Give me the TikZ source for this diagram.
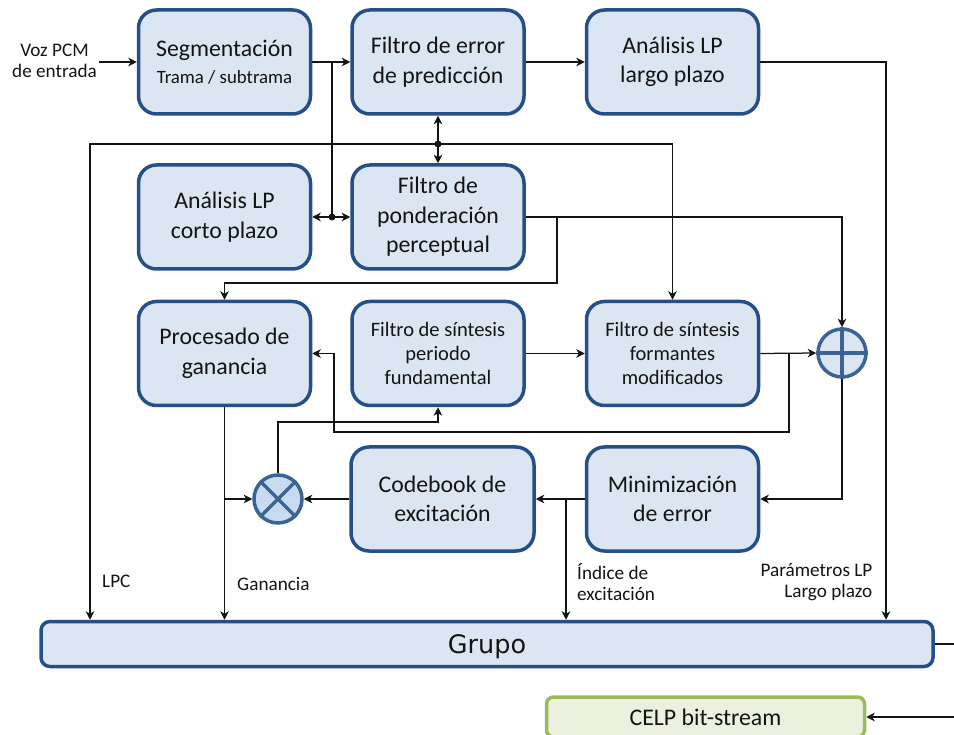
\documentclass[tikz,border=0pt]{standalone}
\usepackage{fontspec}
\setmainfont{Carlito}
\newfontfamily\grupofont{DejaVu Sans}
\usetikzlibrary{arrows.meta}

\definecolor{blkfill}{HTML}{DCE6F2}
\definecolor{blkline}{HTML}{244F87}
\definecolor{opline}{HTML}{3B6494}
\definecolor{mulfill}{HTML}{C8DAF0}
\definecolor{grnfill}{HTML}{EBF1DE}
\definecolor{grnline}{HTML}{9BBB59}
\definecolor{ink}{HTML}{141414}

\tikzset{
  block/.style={draw=blkline, fill=blkfill, line width=3.5pt, rounded corners=18pt,
    minimum width=172pt, minimum height=104pt, align=center, inner sep=0pt,
    text=ink, font=\fontsize{23.8}{29.5}\selectfont},
  smallblock/.style={block, font=\fontsize{20.5}{24}\selectfont},
  opnode/.style={circle, draw=opline, fill=blkfill, line width=3.5pt,
    minimum size=48pt, inner sep=0pt},
  opcross/.style={draw=opline, line width=3.5pt},
  conn/.style={draw=ink, line width=1.25pt},
  arr/.style={conn, -{Stealth[length=8.5pt,width=8.5pt,inset=2.5pt]}},
  junct/.style={fill=ink},
  lbl/.style={inner sep=0pt, text=ink, font=\fontsize{19.2}{21.5}\selectfont},
}

\begin{document}
\begin{tikzpicture}[x=1pt,y=-1pt]
\useasboundingbox (0,0) rectangle (954,735);
\clip (0,0) rectangle (954,735);

% processing blocks
\node[block] (seg) at (224.5,62) {Segmentación\\[-3pt]{\fontsize{18.8}{22}\selectfont Trama / subtrama}};
\node[block] (err) at (438,62) {Filtro de error\\de predicción};
\node[block] (lplargo) at (672.5,62) {Análisis LP\\largo plazo};
\node[block] (lpcorto) at (224.5,217) {Análisis LP\\corto plazo};
\node[block] (pond) at (438,217) {Filtro de\\ponderación\\perceptual};
\node[block] (gan) at (224.5,353.5) {Procesado de\\ganancia};
\node[smallblock] (per) at (438,353.5) {Filtro de síntesis\\periodo\\fundamental};
\node[smallblock] (form) at (672.5,353.5) {Filtro de síntesis\\formantes\\modificados};
\node[block, minimum width=183pt] (code) at (442.5,499) {Codebook de\\excitación};
\node[block] (mini) at (672.5,499) {Minimización\\de error};

% adder and multiplier
\node[opnode] (sum) at (842,353) {};
\draw[opcross] (sum.north) -- (sum.south) (sum.west) -- (sum.east);
\node[opnode, fill=mulfill] (mul) at (278,499) {};
\draw[opcross] (mul.north west) -- (mul.south east) (mul.north east) -- (mul.south west);

% multiplexer and output
\node[draw=blkline, fill=blkfill, line width=3.5pt, rounded corners=9pt,
  minimum width=892pt, minimum height=45pt, inner sep=0pt, text=ink, text depth=0pt,
  font=\grupofont\fontsize{25.5}{30}\selectfont] (grupo) at (487,644) {Grupo};
\node[draw=grnline, fill=grnfill, line width=3.5pt, rounded corners=7pt,
  minimum width=318pt, minimum height=40pt, inner sep=0pt, text=ink,
  font=\fontsize{23.8}{28}\selectfont] (celp) at (705.5,717) {CELP bit-stream};

% junction points and bends
\coordinate (vin) at (99,62);
\coordinate (j1) at (332,217);
\coordinate (j2) at (438,144);
\coordinate (cL) at (90,144);
\coordinate (cPar) at (886,62);
\coordinate (j3) at (557,217);
\coordinate (k1) at (557,283);
\coordinate (j4) at (789,353.5);
\coordinate (k3) at (334,432);
\coordinate (k4) at (278,422);
\coordinate (j5) at (566,499);
\coordinate (eOut) at (960,644);
\coordinate (eIn) at (960,717);

% input
\node[lbl, align=center] (voz) at (54.5,61) {Voz PCM\\de entrada};
\draw[arr] (vin) -- (seg.west);

% top row
\draw[arr] (seg.east) -- (err.west);
\draw[conn] (seg.east -| j1) -- (j1);
\draw[arr] (j1) -- (lpcorto.east);
\draw[arr] (j1) -- (pond.west);
\fill[junct] (j1) circle (3.5pt);
\draw[arr] (err.east) -- (lplargo.west);
\draw[arr] (lplargo.east) -- (cPar) -- (cPar |- grupo.north);

% LPC bus
\draw[arr] (j2) -- (err.south);
\draw[arr] (j2) -- (pond.north);
\draw[arr] (j2) -| (form.north);
\draw[arr] (j2) -- (cL) -- (cL |- grupo.north);
\fill[junct] (j2) circle (3.5pt);

% perceptual weighting output
\draw[arr] (pond.east) -| (sum.north);
\draw[arr] (j3) -- (k1) -| (gan.north);

% synthesis chain
\draw[arr] (per.east) -- (form.west);
\draw[arr] (form.east) -- (sum.west);
\draw[arr] (j4) |- (k3) |- (gan.east);
\draw[arr] (mul.north) -- (k4) -| (per.south);

% gain and excitation
\draw[arr] (gan.south) -- (gan.south |- grupo.north);
\draw[arr] (gan.south |- mul.west) -- (mul.west);
\draw[arr] (code.west) -- (mul.east);
\draw[arr] (mini.west) -- (code.east);
\draw[arr] (j5) -- (j5 |- grupo.north);
\draw[arr] (sum.south) |- (mini.east);

% bit-stream
\draw[conn] (grupo.east) -- (eOut);
\draw[arr] (eIn) -- (celp.east);

% signal labels
\node[lbl, anchor=base west] (lLPC) at (102,587) {LPC};
\node[lbl, anchor=base west] (lGan) at (237,590) {Ganancia};
\node[lbl, anchor=west, align=left] (lIdx) at (577,582) {Índice de\\excitación};
\node[lbl, anchor=east, align=right] (lPar) at (872.5,582) {Parámetros LP\\Largo plazo};
\end{tikzpicture}
\end{document}
